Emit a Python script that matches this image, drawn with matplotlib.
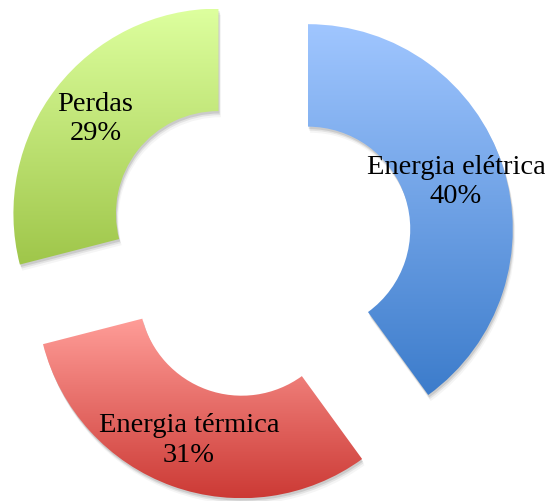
import matplotlib
matplotlib.use("Agg")
import matplotlib.pyplot as plt
import matplotlib.patches as mpatches
import numpy as np
from matplotlib.colors import LinearSegmentedColormap

labels = ["Energia elétrica", "Energia térmica", "Perdas"]
values = [40, 31, 29]
top_colors = ["#a0c6ff", "#ff9d98", "#ddff9e"]
bottom_colors = ["#3c7ccb", "#cc3a35", "#9fc64a"]

fig = plt.figure(figsize=(5.45, 5.02), dpi=100)
ax = fig.add_axes([0, 0, 1, 1])
ax.set_xlim(-1.263, 1.395)
ax.set_ylim(-1.249, 1.2)
ax.set_aspect("equal")
ax.axis("off")

wedges, _ = ax.pie(values, startangle=90, counterclock=False,
                   explode=[0.25] * len(values), radius=1,
                   wedgeprops=dict(width=0.5, linewidth=0))

grad = np.linspace(1, 0, 256).reshape(-1, 1)
for w, lab, v, c_top, c_bot in zip(wedges, labels, values, top_colors, bottom_colors):
    cx, cy = w.center
    # soft shadow
    for k, a in [(0.012, 0.10), (0.02, 0.07), (0.03, 0.04)]:
        sh = mpatches.Wedge((cx + k * 0.4, cy - k), w.r, w.theta1, w.theta2,
                            width=w.width, facecolor="black", edgecolor="none",
                            alpha=a, zorder=0.5)
        ax.add_patch(sh)
    w.set_facecolor("none")
    w.set_edgecolor("none")
    cmap = LinearSegmentedColormap.from_list("g", [c_bot, c_top])
    bb = w.get_path().get_extents(w.get_patch_transform())
    im = ax.imshow(grad, cmap=cmap, aspect="auto", origin="upper",
                   extent=[bb.x0, bb.x1, bb.y0, bb.y1], zorder=1,
                   interpolation="bilinear")
    im.set_clip_path(w)
    ang = np.deg2rad((w.theta1 + w.theta2) / 2)
    tx = cx + 0.76 * w.r * np.cos(ang)
    ty = cy + 0.76 * w.r * np.sin(ang)
    ax.text(tx, ty, f"{lab}\n{v}%", ha="center", va="center",
            fontsize=20.5, family="Liberation Serif", color="black", zorder=3,
            linespacing=1.25)

ax.set_xlim(-1.263, 1.395)
ax.set_ylim(-1.249, 1.2)
fig.savefig("out.png", dpi=100)
